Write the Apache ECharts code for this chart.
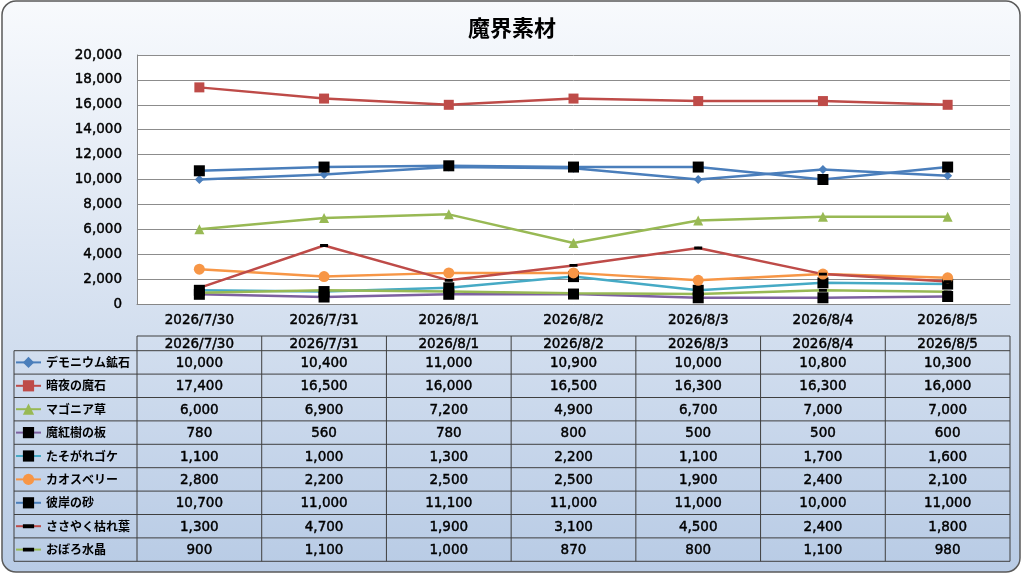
<!DOCTYPE html>
<html>
<head>
<meta charset="utf-8">
<script src="https://cdn.jsdelivr.net/npm/echarts@6/dist/echarts.min.js"></script>
<style>
  html, body { margin: 0; padding: 0; background: #fff; }
  #main { width: 1024px; height: 576px; }
</style>
</head>
<body>
<div id="main"></div>
<script>
// 日付
const dates = ['2026/7/30', '2026/7/31', '2026/8/1', '2026/8/2', '2026/8/3', '2026/8/4', '2026/8/5']
// 素材名
const names = ['デモニウム鉱石', '暗夜の魔石', 'マゴニア草', '魔紅樹の板', 'たそがれゴケ', 'カオスベリー', '彼岸の砂', 'ささやく枯れ葉', 'おぼろ水晶']
// 各素材の値
const demonium = [10000, 10400, 11000, 10900, 10000, 10800, 10300]
const anyaStone = [17400, 16500, 16000, 16500, 16300, 16300, 16000]
const magonia = [6000, 6900, 7200, 4900, 6700, 7000, 7000]
const makoju = [780, 560, 780, 800, 500, 500, 600]
const tasogare = [1100, 1000, 1300, 2200, 1100, 1700, 1600]
const chaosBerry = [2800, 2200, 2500, 2500, 1900, 2400, 2100]
const higanSand = [10700, 11000, 11100, 11000, 11000, 10000, 11000]
const sasayaku = [1300, 4700, 1900, 3100, 4500, 2400, 1800]
const oboro = [900, 1100, 1000, 870, 800, 1100, 980]
const values = [demonium, anyaStone, magonia, makoju, tasogare, chaosBerry, higanSand, sasayaku, oboro]

// 線の色とマーカー(細いダッシュは四角い枠の中に描く)
const DASH = 'path://M0,0L0.01,0M0,2.6H8V5.4H0ZM8,8L7.99,8'
const lineColors = ['#4a7ebb', '#be4b48', '#98b954', '#7d60a0', '#46aac5', '#f79646', '#4a7ebb', '#be4b48', '#98b954']
const markers = [
    { symbol: 'diamond', size: 9, color: '#4a7ebb' },
    { symbol: 'rect', size: 10, color: '#be4b48' },
    { symbol: 'triangle', size: 10, color: '#98b954' },
    { symbol: 'rect', size: 11, color: '#000' },
    { symbol: 'rect', size: 11, color: '#000' },
    { symbol: 'circle', size: 11, color: '#f79646' },
    { symbol: 'rect', size: 11, color: '#000' },
    { symbol: DASH, size: 8, color: '#000' },
    { symbol: DASH, size: 8, color: '#000' }
]

const FONT = "'DejaVu Sans', 'Noto Sans CJK JP', sans-serif"
const JP = "'Noto Sans CJK JP', sans-serif"

// レイアウト
const plotL = 137, plotR = 1010, plotT = 55, plotB = 304
const tblHeadT = 336, tblRowT = 350.7, rowH = 23.4, tblL = 14
const colW = (plotR - plotL) / dates.length

const fmt = v => v.toLocaleString('en-US')

const chart = echarts.init(document.querySelector('#main'))

// 表の文字(少し太らせる)
function cellText(text, x, y) {
    return {
        type: 'text', x: x, y: y,
        style: {
            text: text, fill: '#000', font: `13.5px ${FONT}`,
            stroke: '#000', lineWidth: 0.45,
            align: 'center', verticalAlign: 'middle'
        }
    }
}

// 表の描画
function buildTable() {
    const g = []
    const lineStyle = { stroke: '#3f3f3f', lineWidth: 1 }
    const tblB = tblRowT + rowH * names.length
    // 横線
    g.push({ type: 'line', shape: { x1: plotL, y1: tblHeadT, x2: plotR, y2: tblHeadT }, style: lineStyle })
    for (let i = 0; i <= names.length; i++) {
        const y = tblRowT + rowH * i
        g.push({ type: 'line', shape: { x1: tblL, y1: y, x2: plotR, y2: y }, style: lineStyle })
    }
    // 縦線
    g.push({ type: 'line', shape: { x1: tblL, y1: tblRowT, x2: tblL, y2: tblB }, style: lineStyle })
    for (let c = 0; c <= dates.length; c++) {
        const x = plotL + colW * c
        g.push({ type: 'line', shape: { x1: x, y1: tblHeadT, x2: x, y2: tblB }, style: lineStyle })
    }
    // 見出し
    dates.forEach((d, c) => {
        g.push(cellText(d, plotL + colW * (c + 0.5), (tblHeadT + tblRowT) / 2 + 1))
    })
    // 値
    values.forEach((arr, r) => {
        arr.forEach((v, c) => {
            g.push(cellText(fmt(v), plotL + colW * (c + 0.5), tblRowT + rowH * (r + 0.5) + 1))
        })
    })
    return g
}

const axisText = {
    color: '#000', fontFamily: FONT, fontSize: 13.5,
    textBorderColor: '#000', textBorderWidth: 0.45
}

const option = {
    animation: false,
    title: {
        text: '魔界素材',
        left: 'center',
        top: 12,
        textStyle: { fontFamily: JP, fontSize: 22, fontWeight: 'bold', color: '#000' }
    },
    graphic: [
        {
            type: 'rect', z: -10,
            shape: { x: 2, y: 1, width: 1018, height: 571, r: 14 },
            style: {
                fill: new echarts.graphic.LinearGradient(0, 0, 0, 1, [
                    { offset: 0, color: '#f8fafd' },
                    { offset: 1, color: '#b8cbe5' }
                ]),
                stroke: '#5a5a5a',
                lineWidth: 1.5
            }
        },
        ...buildTable()
    ],
    legend: {
        orient: 'vertical',
        left: tblL + 1,
        top: tblRowT + (rowH - 14) / 2,
        padding: 0,
        itemWidth: 25,
        itemHeight: 14,
        itemGap: rowH - 14,
        symbolKeepAspect: true,
        textStyle: { fontFamily: JP, fontSize: 12, fontWeight: 'bold', color: '#000', lineHeight: 14 },
        data: names
    },
    grid: {
        left: plotL,
        right: 1024 - plotR,
        top: plotT,
        bottom: 576 - plotB,
        show: true,
        backgroundColor: '#fff',
        borderWidth: 0,
        containLabel: false
    },
    xAxis: {
        type: 'category',
        data: dates,
        boundaryGap: true,
        axisLine: { show: true, lineStyle: { color: '#868686', width: 1 } },
        axisTick: { show: false },
        axisLabel: { ...axisText, margin: 10 }
    },
    yAxis: {
        type: 'value',
        min: 0,
        max: 20000,
        interval: 2000,
        axisLine: { show: true, lineStyle: { color: '#868686', width: 1 } },
        axisTick: { show: false },
        splitLine: { lineStyle: { color: '#8c8c8c', width: 1 } },
        axisLabel: { ...axisText, margin: 15, formatter: v => fmt(v) }
    },
    series: names.map((name, i) => ({
        name: name,
        type: 'line',
        data: values[i],
        symbol: markers[i].symbol,
        symbolSize: markers[i].size,
        symbolKeepAspect: true,
        showAllSymbol: true,
        lineStyle: { color: lineColors[i], width: 2.5 },
        itemStyle: { color: markers[i].color },
        emphasis: { disabled: true }
    }))
}

chart.setOption(option)
</script>
</body>
</html>
